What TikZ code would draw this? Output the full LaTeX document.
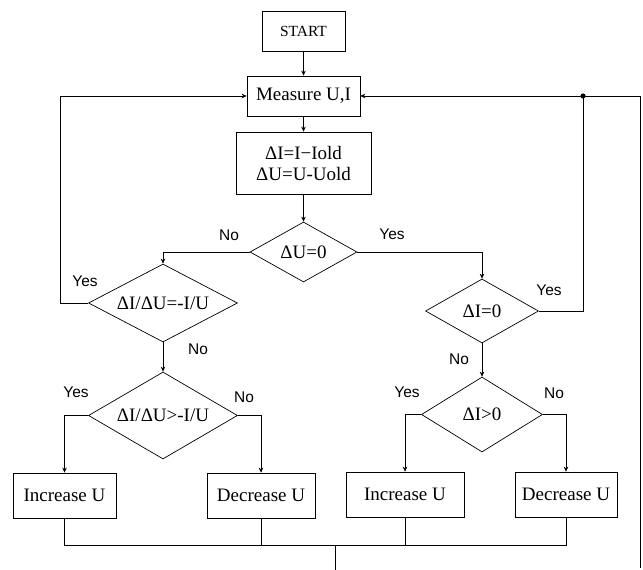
\documentclass[tikz,border=0pt]{standalone}
\usepackage{fontspec}
\setmainfont{Liberation Serif}
\newfontfamily\labfont{Liberation Sans}
\usetikzlibrary{shapes.geometric,arrows.meta}
\begin{document}
\begin{tikzpicture}[x=1pt,y=-1pt,
  line width=0.7pt,
  box/.style={draw,rectangle,inner sep=0pt,font=\fontsize{19}{21}\selectfont,align=center},
  dia/.style={draw,diamond,inner sep=0pt,aspect=2,font=\fontsize{19}{21}\selectfont},
  lab/.style={font=\labfont\fontsize{15.5}{17}\selectfont,inner sep=0pt},
  arr/.style={-{Stealth[length=5pt,width=4.5pt]}}]
\useasboundingbox (0,0) rectangle (643,570);
% boxes
\node[box,minimum width=83pt,minimum height=40pt,font=\fontsize{15.5}{17}\selectfont] (start) at (303.5,31) {START};
\node[box,minimum width=113pt,minimum height=40pt] (meas) at (303.5,96) {Measure U,I};
\node[box,minimum width=135pt,minimum height=62pt] (delta) at (303.5,163) {ΔI=I−Iold\\ΔU=U-Uold};
% diamonds
\node[dia,minimum width=107pt,minimum height=60pt] (dU0) at (303.5,252) {ΔU=0};
\node[dia,minimum width=149pt,minimum height=78pt] (dR) at (163,303) {ΔI/ΔU=-I/U};
\node[dia,minimum width=113pt,minimum height=64pt] (dI0) at (482,311) {ΔI=0};
\node[dia,minimum width=149pt,minimum height=87pt] (dG) at (163,415.5) {ΔI/ΔU>-I/U};
\node[dia,minimum width=121pt,minimum height=75pt] (dIp) at (482,414.5) {ΔI>0};
% action boxes
\node[box,minimum width=103pt,minimum height=45pt] (inc1) at (64.5,495.5) {Increase U};
\node[box,minimum width=108pt,minimum height=45pt] (dec1) at (261,495.5) {Decrease U};
\node[box,minimum width=118pt,minimum height=45pt] (inc2) at (405,494.5) {Increase U};
\node[box,minimum width=102pt,minimum height=45pt] (dec2) at (566,494.5) {Decrease U};
% helper coordinates
\coordinate (lx) at (60,96);
\coordinate (dot) at (583,96);
\coordinate (rt) at (640,96);
\coordinate (rb) at (640,568);
\coordinate (j) at (335,545);
\coordinate (jend) at (335,570);
% connectors
\draw[arr] (start) -- (meas);
\draw[arr] (meas) -- (delta);
\draw[arr] (delta) -- (dU0);
\draw[arr] (dU0.west) -| (dR.north);
\draw[arr] (dU0.east) -| (dI0.north);
\draw[arr] (dR.west) -| (lx) -- (meas.west);
\draw[arr] (dR.south) -- (dG.north);
\draw[arr] (dG.west) -| (inc1.north);
\draw[arr] (dG.east) -| (dec1.north);
\draw (dI0.east) -| (dot);
\draw[arr] (rb) -- (rt) -- (meas.east);
\fill (dot) circle (2.6pt);
\draw[arr] (dI0.south) -- (dIp.north);
\draw[arr] (dIp.west) -| (inc2.north);
\draw[arr] (dIp.east) -| (dec2.north);
\draw (inc1.south) |- (j);
\draw (dec2.south) |- (j);
\draw (dec1.south) -- (dec1.south |- j);
\draw (inc2.south) -- (inc2.south |- j);
\draw (j) -- (jend);
% labels
\node[lab] (l1) at (229,235) {No};
\node[lab] (l2) at (392,234) {Yes};
\node[lab] (l3) at (85,281) {Yes};
\node[lab] (l4) at (198,349) {No};
\node[lab] (l5) at (549,290) {Yes};
\node[lab] (l6) at (459,359) {No};
\node[lab] (l7) at (76,392) {Yes};
\node[lab] (l8) at (244,397) {No};
\node[lab] (l9) at (407,392) {Yes};
\node[lab] (l10) at (554,393) {No};
\end{tikzpicture}
\end{document}
